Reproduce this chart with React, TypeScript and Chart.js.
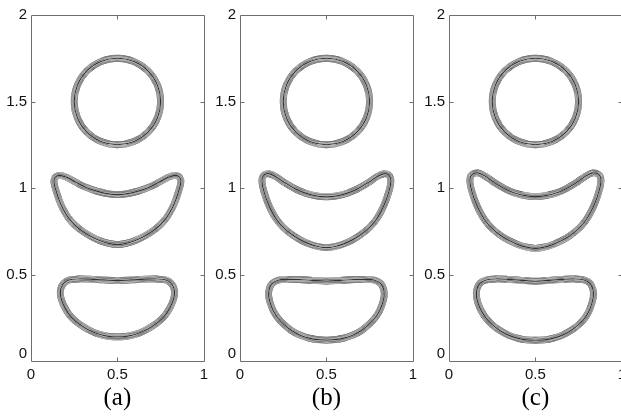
import { useEffect, useRef } from 'react';
import { Chart, registerables } from 'chart.js';

Chart.register(...registerables);

type Pt = [number, number];

// Axis ticks and panel captions
const xTicks = [0, 0.5, 1];
const yTicks = [0, 0.5, 1, 1.5, 2];
const panelLabels = ['(a)', '(b)', '(c)'];

// Upper drop: same circle in every panel
const circle: Pt[] = [
  [0.5, 1.75], [0.596, 1.731], [0.677, 1.677], [0.731, 1.596], [0.75, 1.5],
  [0.731, 1.404], [0.677, 1.323], [0.596, 1.269], [0.5, 1.25], [0.404, 1.269],
  [0.323, 1.323], [0.269, 1.404], [0.25, 1.5], [0.269, 1.596], [0.323, 1.677],
  [0.404, 1.731],
];

// Middle drop (crescent) per panel
const crescentA: Pt[] = [
  [0.5, 0.962], [0.44, 0.968], [0.38, 0.982], [0.32, 1.003], [0.26, 1.033],
  [0.21, 1.06], [0.17, 1.073], [0.145, 1.066], [0.133, 1.045], [0.136, 1.015],
  [0.148, 0.975], [0.163, 0.93], [0.185, 0.88], [0.215, 0.83], [0.255, 0.785],
  [0.3, 0.748], [0.35, 0.718], [0.4, 0.695], [0.45, 0.68], [0.5, 0.673],
  [0.55, 0.68], [0.6, 0.695], [0.65, 0.718], [0.7, 0.748], [0.745, 0.785],
  [0.785, 0.83], [0.815, 0.88], [0.837, 0.93], [0.852, 0.975], [0.864, 1.015],
  [0.867, 1.045], [0.855, 1.066], [0.83, 1.073], [0.79, 1.06], [0.74, 1.033],
  [0.68, 1.003], [0.62, 0.982], [0.56, 0.968],
];
const crescentB: Pt[] = [
  [0.5, 0.949], [0.44, 0.955], [0.38, 0.97], [0.32, 0.995], [0.26, 1.03],
  [0.21, 1.064], [0.17, 1.082], [0.142, 1.077], [0.128, 1.055], [0.129, 1.02],
  [0.14, 0.975], [0.157, 0.925], [0.18, 0.872], [0.21, 0.82], [0.25, 0.772],
  [0.3, 0.731], [0.35, 0.7], [0.4, 0.677], [0.45, 0.662], [0.5, 0.655],
  [0.55, 0.662], [0.6, 0.677], [0.65, 0.7], [0.7, 0.731], [0.75, 0.772],
  [0.79, 0.82], [0.82, 0.872], [0.843, 0.925], [0.86, 0.975], [0.871, 1.02],
  [0.872, 1.055], [0.858, 1.077], [0.83, 1.082], [0.79, 1.064], [0.74, 1.03],
  [0.68, 0.995], [0.62, 0.97], [0.56, 0.955],
];
const crescentC: Pt[] = [
  [0.5, 0.95], [0.44, 0.956], [0.38, 0.971], [0.32, 0.997], [0.26, 1.033],
  [0.21, 1.068], [0.167, 1.087], [0.137, 1.081], [0.122, 1.058], [0.123, 1.02],
  [0.135, 0.972], [0.152, 0.922], [0.176, 0.868], [0.207, 0.815], [0.247, 0.768],
  [0.297, 0.727], [0.348, 0.696], [0.4, 0.673], [0.45, 0.658], [0.5, 0.651],
  [0.55, 0.658], [0.6, 0.673], [0.652, 0.696], [0.703, 0.727], [0.753, 0.768],
  [0.793, 0.815], [0.824, 0.868], [0.848, 0.922], [0.865, 0.972], [0.877, 1.02],
  [0.878, 1.058], [0.863, 1.081], [0.833, 1.087], [0.79, 1.068], [0.74, 1.033],
  [0.68, 0.997], [0.62, 0.971], [0.56, 0.956],
];

// Lower drop per panel
const bowlA: Pt[] = [
  [0.5, 0.466], [0.42, 0.469], [0.34, 0.473], [0.27, 0.474], [0.22, 0.468],
  [0.19, 0.45], [0.173, 0.42], [0.17, 0.385], [0.178, 0.35], [0.195, 0.31],
  [0.22, 0.27], [0.255, 0.233], [0.3, 0.2], [0.35, 0.172], [0.4, 0.153],
  [0.45, 0.142], [0.5, 0.139], [0.55, 0.142], [0.6, 0.153], [0.65, 0.172],
  [0.7, 0.2], [0.745, 0.233], [0.78, 0.27], [0.805, 0.31], [0.822, 0.35],
  [0.83, 0.385], [0.827, 0.42], [0.81, 0.45], [0.78, 0.468], [0.73, 0.474],
  [0.66, 0.473], [0.58, 0.469],
];
const bowlB: Pt[] = [
  [0.5, 0.462], [0.42, 0.466], [0.34, 0.471], [0.27, 0.472], [0.22, 0.467],
  [0.186, 0.448], [0.169, 0.415], [0.166, 0.375], [0.175, 0.335], [0.192, 0.292],
  [0.218, 0.25], [0.253, 0.212], [0.298, 0.176], [0.348, 0.149], [0.4, 0.132],
  [0.45, 0.123], [0.5, 0.121], [0.55, 0.123], [0.6, 0.132], [0.652, 0.149],
  [0.702, 0.176], [0.747, 0.212], [0.782, 0.25], [0.808, 0.292], [0.825, 0.335],
  [0.834, 0.375], [0.831, 0.415], [0.814, 0.448], [0.78, 0.467], [0.73, 0.472],
  [0.66, 0.471], [0.58, 0.466],
];
const bowlC: Pt[] = [
  [0.5, 0.461], [0.42, 0.466], [0.34, 0.472], [0.27, 0.474], [0.215, 0.468],
  [0.178, 0.448], [0.161, 0.413], [0.159, 0.372], [0.169, 0.332], [0.187, 0.29],
  [0.214, 0.248], [0.25, 0.21], [0.296, 0.175], [0.347, 0.148], [0.4, 0.131],
  [0.45, 0.122], [0.5, 0.12], [0.55, 0.122], [0.6, 0.131], [0.653, 0.148],
  [0.704, 0.175], [0.75, 0.21], [0.786, 0.248], [0.811, 0.29], [0.826, 0.332],
  [0.835, 0.372], [0.833, 0.413], [0.817, 0.448], [0.782, 0.468], [0.73, 0.474],
  [0.66, 0.472], [0.58, 0.466],
];

const panelShapes: Pt[][][] = [
  [circle, crescentA, bowlA],
  [circle, crescentB, bowlB],
  [circle, crescentC, bowlC],
];

// Each interface is drawn as a band of fine concentric contour lines:
// the same closed curve stroked wide-to-narrow, alternating ink and paper.
const INK = '#333333';
const PAPER = '#ffffff';
const STRIPES = [
  { w: 6.8, c: INK },
  { w: 6.1, c: PAPER },
  { w: 5.4, c: INK },
  { w: 4.7, c: PAPER },
  { w: 4.0, c: INK },
  { w: 3.3, c: PAPER },
  { w: 2.6, c: INK },
  { w: 1.9, c: PAPER },
  { w: 1.2, c: INK },
];

const CANVAS_W = 214;
const CANVAS_H = 416;
const PANEL_STEP = 209;

// Treat every line dataset as a closed loop so the spline wraps smoothly.
const closedLoop = {
  id: 'closedLoop',
  afterDatasetUpdate(_chart: any, args: any) {
    const line = args.meta.dataset;
    if (line) {
      line._loop = true;
      line._fullLoop = true;
    }
  },
};

// Box around the plot area with inward tick marks on all four sides.
const frame = {
  id: 'frame',
  afterDraw(chart: any) {
    const { ctx, chartArea: a, scales } = chart;
    const l = Math.round(a.left) + 0.5;
    const r = Math.round(a.right) + 0.5;
    const t = Math.round(a.top) + 0.5;
    const b = Math.round(a.bottom) + 0.5;
    ctx.save();
    ctx.strokeStyle = '#6e6e6e';
    ctx.lineWidth = 1;
    ctx.beginPath();
    ctx.rect(l, t, r - l, b - t);
    const len = 4;
    yTicks.slice(1, -1).forEach((v) => {
      const py = Math.round(scales.y.getPixelForValue(v)) + 0.5;
      ctx.moveTo(l, py); ctx.lineTo(l + len, py);
      ctx.moveTo(r, py); ctx.lineTo(r - len, py);
    });
    xTicks.slice(1, -1).forEach((v) => {
      const px = Math.round(scales.x.getPixelForValue(v)) + 0.5;
      ctx.moveTo(px, b); ctx.lineTo(px, b - len);
      ctx.moveTo(px, t); ctx.lineTo(px, t + len);
    });
    ctx.stroke();
    ctx.restore();
  },
};

const fmt = (v: number | string) => String(Number(v));
// The y-axis zero sits a little above the corner so it clears the x-axis zero.
const fmtY = (v: number | string) => (Number(v) === 0 ? ['0', ''] : String(Number(v)));

function Panel({ index }: { index: number }) {
  const ref = useRef<HTMLCanvasElement>(null);

  useEffect(() => {
    const canvas = ref.current;
    if (!canvas) return;
    const datasets: any[] = [];
    panelShapes[index].forEach((shape) => {
      STRIPES.forEach((s, k) => {
        datasets.push({
          data: shape.map(([x, y]) => ({ x, y })),
          borderColor: s.c,
          borderWidth: s.w,
          pointRadius: 0,
          tension: 0.35,
          fill: false,
          spanGaps: true,
          borderJoinStyle: 'round',
          order: STRIPES.length - k,
        });
      });
    });

    const tickFont = { family: "'Liberation Sans', Arial, sans-serif", size: 15, lineHeight: 1.0 };
    const chart = new Chart(canvas, {
      type: 'line',
      data: { datasets },
      plugins: [closedLoop, frame],
      options: {
        animation: false,
        responsive: false,
        devicePixelRatio: 1,
        events: [],
        layout: { padding: { top: 15, right: 10, left: 0, bottom: 0 } },
        plugins: { legend: { display: false }, tooltip: { enabled: false } },
        scales: {
          x: {
            type: 'linear',
            min: 0,
            max: 1,
            grid: { display: false, drawTicks: false },
            border: { display: false },
            afterBuildTicks: (s: any) => { s.ticks = xTicks.map((value) => ({ value })); },
            ticks: { color: '#111', font: tickFont, padding: 6, maxRotation: 0, callback: fmt },
            title: {
              display: true,
              text: panelLabels[index],
              color: '#000',
              font: { family: "'Liberation Serif', 'Times New Roman', serif", size: 25, lineHeight: 1.2 },
              padding: { top: 0, bottom: 3 },
            },
            afterFit: (s: any) => { s.height = 55; },
          },
          y: {
            type: 'linear',
            min: 0,
            max: 2,
            grid: { display: false, drawTicks: false },
            border: { display: false },
            afterBuildTicks: (s: any) => { s.ticks = yTicks.map((value) => ({ value })); },
            ticks: { color: '#111', font: { ...tickFont, lineHeight: 0.95 }, padding: 4, callback: fmtY },
            afterFit: (s: any) => { s.width = 31; },
          },
        },
      } as any,
    });
    return () => chart.destroy();
  }, [index]);

  return (
    <canvas
      ref={ref}
      width={CANVAS_W}
      height={CANVAS_H}
      style={{ position: 'absolute', left: index * PANEL_STEP, top: 0, width: CANVAS_W, height: CANVAS_H }}
    />
  );
}

export default function App() {
  return (
    <div
      style={{
        position: 'fixed',
        left: 0,
        top: 0,
        width: 621,
        height: 416,
        overflow: 'hidden',
        background: '#fff',
      }}
    >
      {panelLabels.map((_, i) => (
        <Panel key={i} index={i} />
      ))}
    </div>
  );
}
